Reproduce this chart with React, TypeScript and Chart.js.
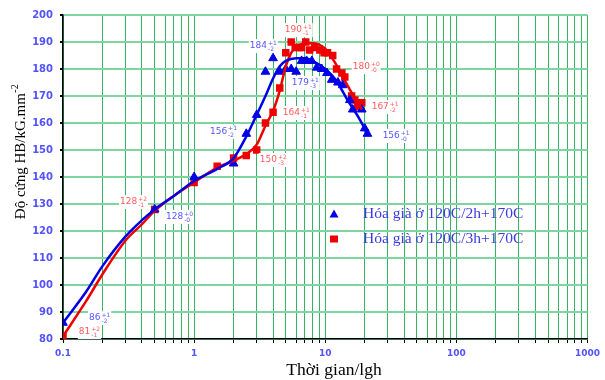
import React, { useEffect, useRef } from "react";
import { Chart, registerables } from "chart.js";
Chart.register(...registerables);

// ---- data ----
const series2hLabel = "Hóa già ở 120C/2h+170C";
const series3hLabel = "Hóa già ở 120C/3h+170C";

// measured points, series 120C/2h+170C (blue triangles)
const blueX = [0.1, 0.5, 1, 2, 2.5, 3, 3.5, 4, 4.5, 5, 5.5, 6, 6.6, 7.2, 7.9, 8.6, 9.4, 10.3, 11.2, 12.5, 13.6, 15.4, 16.2, 19, 20, 21];
const blueY = [86, 128, 140, 145, 156, 163, 179, 184, 179, 180, 180, 179, 183, 183, 183, 180.5, 180, 178.5, 176, 175, 174, 168.5, 165, 165, 158, 156];

// measured points, series 120C/3h+170C (red squares)
const redX = [0.1, 0.5, 1, 1.5, 2, 2.5, 3, 3.5, 4, 4.5, 5, 5.5, 5.9, 6.3, 6.6, 7.1, 7.6, 8.3, 9.1, 9.8, 10.4, 11.4, 12.2, 13.4, 14.1, 15.9, 16.8, 17.7, 19];
const redY = [81, 128, 138, 144, 147, 148, 150, 160, 164, 173, 186, 190, 188, 188, 188, 190, 187, 188, 187, 186, 186, 185, 180, 178.5, 177, 170, 168.5, 166, 167.5];

// fitted curves
const blueFitX = [0.1, 0.15, 0.2, 0.3, 0.4, 0.5, 0.7, 1, 1.5, 2, 2.5, 3, 3.5, 4, 4.5, 5, 6, 7, 8, 10, 12, 15, 18, 21];
const blueFitY = [86, 97.5, 107, 118, 124, 128, 133, 138.5, 143, 147, 155, 163, 170, 176.5, 181, 183, 184, 184, 183, 180, 176, 168, 162, 156];
const redFitX = [0.1, 0.15, 0.2, 0.3, 0.4, 0.5, 0.7, 1, 1.5, 2, 2.5, 3, 3.5, 4, 4.5, 5, 5.5, 6, 7, 8, 10, 12, 14, 16, 19];
const redFitY = [81, 94, 104, 116.5, 122.5, 127.5, 133, 138, 143.5, 146, 148.5, 152, 159, 164.5, 172, 181, 186, 188, 189.5, 189.5, 187.5, 182, 176, 171, 165];

// value annotations (0 = blue series, 1 = red series)
const annText = ["190", "184", "180", "179", "164", "167", "156", "156", "150", "128", "128", "86", "81"];
const annPlus = ["1", "1", "0", "1", "1", "1", "1", "1", "2", "2", "0", "1", "2"];
const annMinus = ["1", "2", "0", "3", "1", "2", "2", "0", "3", "1", "0", "2", "1"];
const annX = [4.91, 2.66, 16.2, 5.56, 4.75, 22.6, 1.32, 27.4, 3.17, 0.272, 0.61, 0.158, 0.132];
const annY = [194.4, 188.5, 180.7, 174.8, 163.7, 165.9, 156.7, 155.2, 146.3, 130.7, 125.2, 87.8, 82.6];
const annSeries = [1, 0, 1, 0, 1, 1, 0, 0, 1, 1, 0, 0, 1];

const xMajor = [0.1, 1, 10, 100, 1000];
const xMultipliers = [1, 2, 3, 4, 5, 6, 7, 8, 9];
const yMin = 80;
const yMax = 200;
const yStep = 10;

const xTitle = "Thời gian/lgh";
const yTitle = "Độ cứng HB/kG.mm";
const yTitleSup = "-2";

// ---- styles ----
const BLUE = "#0000e6";
const RED = "#ee0000";
const BLUE_TXT = "#5656ff";
const RED_TXT = "#ff5a5a";
const TICK_TXT = "#5252ff";
const LEGEND_TXT = "#3a3ae0";

const toPts = (xs: number[], ys: number[]) => xs.map((x, i) => ({ x, y: ys[i] }));

const overlayPlugin = {
  id: "overlay",
  afterDatasetsDraw(chart: any) {
    const { ctx, scales, chartArea } = chart;
    const xs = scales.x;
    const ys = scales.y;
    ctx.save();
    // annotations
    annText.forEach((t, i) => {
      const px = xs.getPixelForValue(annX[i]);
      const py = ys.getPixelForValue(annY[i]);
      const color = annSeries[i] === 0 ? BLUE_TXT : RED_TXT;
      ctx.font = '9px "DejaVu Sans"';
      const w = ctx.measureText(t).width;
      ctx.font = '6px "DejaVu Sans"';
      const sw = Math.max(ctx.measureText("+" + annPlus[i]).width, ctx.measureText("-" + annMinus[i]).width);
      ctx.fillStyle = "#ffffff";
      ctx.fillRect(px - 1, py - 7, w + sw + 3, 14);
      ctx.fillStyle = color;
      ctx.textAlign = "left";
      ctx.textBaseline = "middle";
      ctx.font = '9px "DejaVu Sans"';
      ctx.fillText(t, px, py);
      ctx.font = '6px "DejaVu Sans"';
      ctx.fillText("+" + annPlus[i], px + w + 1, py - 3);
      ctx.fillText("-" + annMinus[i], px + w + 1, py + 3.5);
    });
    // legend
    const lx = chartArea.left + 271;
    const ly = chartArea.top + 199;
    ctx.fillStyle = BLUE;
    ctx.beginPath();
    ctx.moveTo(lx, ly - 4.5);
    ctx.lineTo(lx + 4.5, ly + 3.5);
    ctx.lineTo(lx - 4.5, ly + 3.5);
    ctx.closePath();
    ctx.fill();
    ctx.fillStyle = RED;
    ctx.fillRect(lx - 4, ly + 25 - 3.5, 8, 7);
    ctx.fillStyle = LEGEND_TXT;
    ctx.font = '15.5px "Liberation Serif"';
    ctx.textAlign = "left";
    ctx.textBaseline = "middle";
    ctx.fillText(series2hLabel, lx + 29, ly);
    ctx.fillText(series3hLabel, lx + 29, ly + 25);
    ctx.restore();
  },
  afterDraw(chart: any) {
    const { ctx, chartArea } = chart;
    ctx.save();
    ctx.fillStyle = "#000";
    ctx.textBaseline = "middle";
    // x title
    ctx.font = '17.5px "Liberation Serif"';
    ctx.textAlign = "center";
    ctx.fillText(xTitle, chartArea.left + 271, chartArea.bottom + 31);
    // y title
    ctx.translate(21, chartArea.top + 137);
    ctx.rotate(-Math.PI / 2);
    ctx.font = '15px "Liberation Serif"';
    const w1 = ctx.measureText(yTitle).width;
    ctx.font = '10px "Liberation Serif"';
    const w2 = ctx.measureText(yTitleSup).width;
    const start = -(w1 + w2) / 2;
    ctx.textAlign = "left";
    ctx.font = '15px "Liberation Serif"';
    ctx.fillText(yTitle, start, 0);
    ctx.font = '10px "Liberation Serif"';
    ctx.fillText(yTitleSup, start + w1 + 0.5, -6);
    ctx.restore();
  },
};

export default function App() {
  const ref = useRef<HTMLCanvasElement | null>(null);
  useEffect(() => {
    if (!ref.current) return;
    const chart = new Chart(ref.current, {
      type: "scatter",
      data: {
        datasets: [
          {
            label: "fit2h",
            data: toPts(blueFitX, blueFitY),
            showLine: true,
            borderColor: BLUE,
            borderWidth: 2.5,
            pointRadius: 0,
            cubicInterpolationMode: "monotone",
          },
          {
            label: "fit3h",
            data: toPts(redFitX, redFitY),
            showLine: true,
            borderColor: RED,
            borderWidth: 2.5,
            pointRadius: 0,
            cubicInterpolationMode: "monotone",
          },
          {
            label: series2hLabel,
            data: toPts(blueX, blueY),
            pointStyle: "triangle",
            pointRadius: 5,
            backgroundColor: BLUE,
            borderColor: BLUE,
            borderWidth: 1,
          },
          {
            label: series3hLabel,
            data: toPts(redX, redY),
            pointStyle: "rect",
            pointRadius: 5.3,
            backgroundColor: RED,
            borderColor: RED,
            borderWidth: 0,
          },
        ],
      } as any,
      options: {
        animation: false,
        responsive: false,
        devicePixelRatio: 1,
        layout: { padding: { top: 15, right: 17, left: 0, bottom: 0 } },
        plugins: { legend: { display: false }, tooltip: { enabled: false } },
        scales: {
          x: {
            type: "logarithmic",
            min: xMajor[0],
            max: xMajor[xMajor.length - 1],
            afterBuildTicks: (scale: any) => {
              const t: any[] = [];
              for (let d = 0; d < xMajor.length - 1; d++) {
                xMultipliers.forEach((m) => t.push({ value: xMajor[d] * m }));
              }
              t.push({ value: xMajor[xMajor.length - 1] });
              scale.ticks = t;
            },
            afterFit: (scale: any) => {
              scale.height = 41;
            },
            ticks: {
              autoSkip: false,
              maxRotation: 0,
              padding: 5,
              color: TICK_TXT,
              font: { family: "DejaVu Sans", size: 9, weight: "bold" },
              callback: (v: any) => {
                const n = Number(v);
                const idx = xMajor.findIndex((m) => Math.abs(m - n) < m * 1e-6);
                return idx >= 0 ? String(xMajor[idx]) : "";
              },
            },
            grid: {
              color: "#34b565",
              lineWidth: 1,
              drawTicks: true,
              tickLength: 4,
              tickColor: "#000",
            },
            border: { color: "#000", width: 1.5 },
          },
          y: {
            min: yMin,
            max: yMax,
            afterFit: (scale: any) => {
              scale.width = 63;
            },
            ticks: {
              stepSize: yStep,
              padding: 7,
              color: TICK_TXT,
              font: { family: "DejaVu Sans", size: 10, weight: "bold" },
            },
            grid: {
              color: "#7fd59f",
              lineWidth: 2,
              drawTicks: true,
              tickLength: 3,
              tickColor: "#000",
            },
            border: { color: "#000", width: 1.5 },
          },
        },
      } as any,
      plugins: [overlayPlugin],
    });
    return () => chart.destroy();
  }, []);
  return (
    <div style={{ position: "fixed", left: 0, top: 0, width: 605, height: 380, background: "#fff" }}>
      <canvas ref={ref} width={605} height={380} />
    </div>
  );
}
